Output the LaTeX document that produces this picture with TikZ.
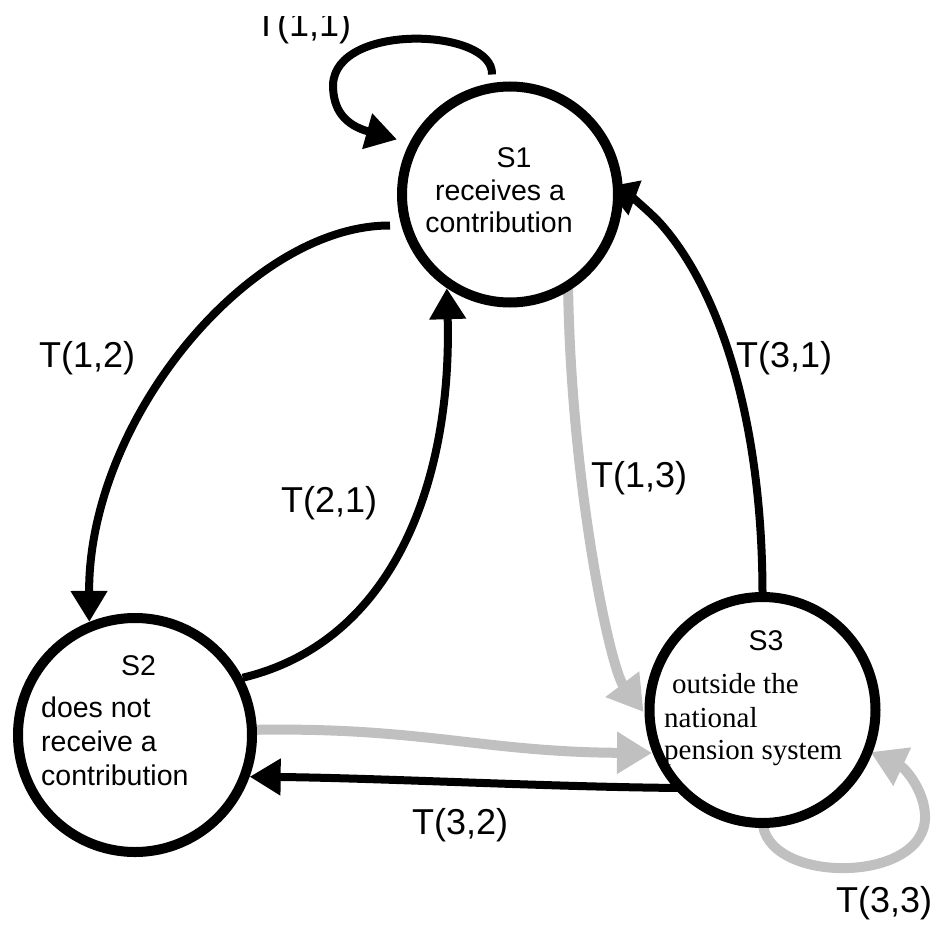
\documentclass[tikz,border=0pt]{standalone}
\usepackage{fontspec}
\setmainfont{Liberation Sans}
\newfontfamily\timesfont{Liberation Serif}
\usetikzlibrary{arrows.meta,calc,backgrounds}
\definecolor{grayc}{HTML}{C0C0C0}
\begin{document}
\begin{tikzpicture}[x=1pt,y=-1pt,
  state/.style={circle,draw=black,fill=white,line width=10pt,inner sep=0pt},
  txt/.style={inner sep=0pt,font=\fontsize{28.5}{30}\selectfont},
  serif/.style={inner sep=0pt,font=\timesfont\fontsize{29}{31}\selectfont},
  lbl/.style={inner sep=0pt,anchor=base west,font=\fontsize{36}{40}\selectfont},
  blk/.style={draw=black,line width=8pt,-{Triangle[length=31pt,width=35pt]}},
  gry/.style={draw=grayc,line width=10pt,-{Triangle[length=35pt,width=40pt]}}
]
\useasboundingbox (0,0) rectangle (932,926);

% states
\node[state,minimum size=216pt] (S1) at (510,194.5) {};
\node[state,minimum size=234pt] (S2) at (135,735) {};
\node[state,minimum size=226pt] (S3) at (762.5,710) {};

% state texts
\node[txt,anchor=base] (s1a) at (514,167) {S1};
\node[txt,anchor=base] (s1b) at (500,200) {receives a};
\node[txt,anchor=base] (s1c) at (499,232) {contribution};
\node[txt,anchor=base] (s2a) at (138.5,675) {S2};
\node[txt,anchor=base west] (s2b) at (41,717) {does not};
\node[txt,anchor=base west] (s2c) at (41,751) {receive a};
\node[txt,anchor=base west] (s2d) at (41,785) {contribution};
\node[txt,anchor=base] (s3a) at (766,650) {S3};
\node[serif,anchor=base west] (s3b) at (672,693) {outside the};
\node[serif,anchor=base west] (s3c) at (664,727) {national};
\node[serif,anchor=base west] (s3d) at (664,759) {pension system};

% transition labels
\node[lbl] (t12) at (39,367) {T(1,2)};
\node[lbl] (t21) at (281,512) {T(2,1)};
\node[lbl] (t13) at (591,487) {T(1,3)};
\node[lbl] (t31) at (736,367) {T(3,1)};
\node[lbl] (t32) at (412,834) {T(3,2)};
\node[lbl] (t33) at (836,912) {T(3,3)};
\begin{scope}
  \clip (0,16) rectangle (932,60);
  \node[lbl] (t11) at (255,36) {T(1,1)};
\end{scope}

% connectors behind the states
\begin{pgfonlayer}{background}
  % T(1,1)
  \draw[blk] ($(S1)+(-18,-120)$) .. controls (494,28) and (335,22) .. (333,85)
             .. controls (333,110) and (345,125) .. ($(S1)+(-113,-55)$);
  % T(1,2)
  \draw[blk] ($(S1)+(-120,31)$) .. controls (250,225) and (88,420) .. (S2.112);
  % T(2,1)
  \draw[blk] (S2.28) .. controls (400,640) and (452,470) .. (S1.236);
  % T(1,3)
  \draw[gry] ($(S1)+(58,85)$) .. controls (570,480) and (610,668) .. ($(S3)+(-119,2)$);
  % T(3,1)
  \draw[blk] (S3.90) .. controls (762,420) and (720,290) .. (660,223)
             .. controls (648,210) and (630,196) .. ($(S1)+(96,-7.5)$);
  % T(3,2)
  \draw[blk] ($(S3)+(-80,78)$) .. controls (550,787) and (380,778) .. (S2.340);
  % S2 -> S3
  \draw[gry] ($(S2)+(110,-5)$) .. controls (420,726) and (480,752) .. ($(S3)+(-110.5,43)$);
  % T(3,3)
  \draw[gry] ($(S3)+(0,110)$) .. controls (763,885) and (928,885) .. (925,815)
             .. controls (924,790) and (905,768) .. ($(S3)+(108,42)$);
\end{pgfonlayer}
\end{tikzpicture}
\end{document}
